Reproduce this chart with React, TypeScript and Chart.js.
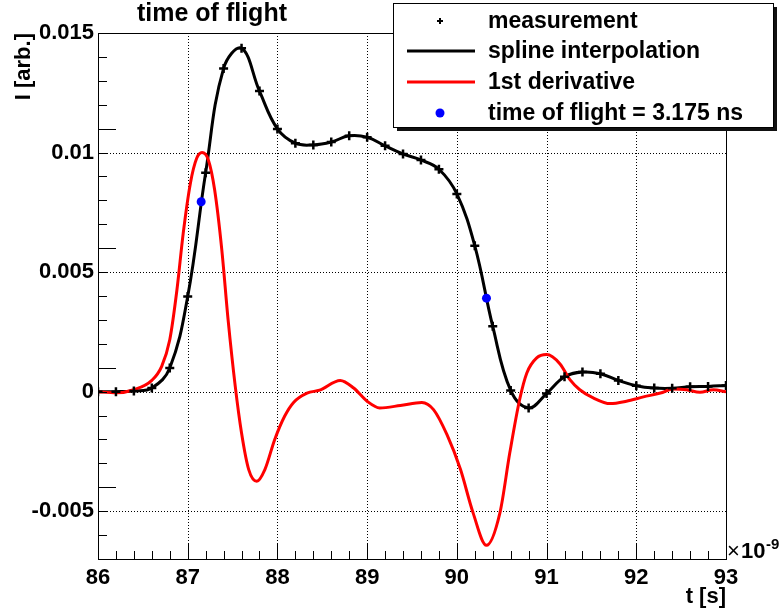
import React, { useEffect, useRef } from 'react';
import { Chart, registerables } from 'chart.js';

Chart.register(...registerables);

// ---------- data ----------
const measT = [86.0, 86.2, 86.4, 86.6, 86.8, 87.0, 87.2, 87.4, 87.6, 87.8, 88.0, 88.2, 88.4, 88.6, 88.8, 89.0, 89.2, 89.4, 89.6, 89.8, 90.0, 90.2, 90.4, 90.6, 90.8, 91.0, 91.2, 91.4, 91.6, 91.8, 92.0, 92.2, 92.4, 92.6, 92.8, 93.0];
const measI = [0.0, 0.0, 0.00003, 0.00015, 0.00099, 0.00398, 0.00916, 0.01352, 0.01436, 0.01257, 0.01099, 0.01039, 0.01032, 0.01044, 0.0107, 0.01064, 0.01028, 0.00994, 0.00969, 0.0093, 0.00827, 0.0061, 0.00273, 0.00005, -0.00068, -0.00008, 0.00062, 0.00082, 0.00075, 0.00047, 0.00025, 0.00015, 0.00014, 0.0002, 0.00022, 0.00026];

const derivT = [86.0, 86.2, 86.4, 86.6, 86.71, 86.8, 86.88, 86.95, 87.03, 87.1, 87.16, 87.23, 87.3, 87.38, 87.45, 87.53, 87.6, 87.68, 87.77, 87.86, 87.97, 88.08, 88.18, 88.33, 88.47, 88.7, 88.85, 89.0, 89.14, 89.37, 89.61, 89.74, 89.89, 90.04, 90.18, 90.33, 90.48, 90.59, 90.7, 90.78, 90.89, 91.0, 91.15, 91.26, 91.37, 91.52, 91.71, 91.89, 92.08, 92.27, 92.41, 92.56, 92.71, 92.86, 93.0];
const derivI = [0.0, -0.00005, 0.00008, 0.00047, 0.00106, 0.00217, 0.00426, 0.00663, 0.00872, 0.00976, 0.01, 0.00969, 0.00844, 0.00593, 0.00301, 0.00022, -0.00173, -0.00326, -0.00375, -0.00326, -0.002, -0.00103, -0.00045, -0.00006, 0.00006, 0.00047, 0.00015, -0.0004, -0.00068, -0.00058, -0.00045, -0.00075, -0.0018, -0.00325, -0.00506, -0.00643, -0.00507, -0.00256, -0.00033, 0.00078, 0.00141, 0.00155, 0.00116, 0.0005, 0.00008, -0.00026, -0.0005, -0.0004, -0.00022, -0.00006, 0.00011, 0.00008, -0.00003, 0.00008, -0.00001];

const tofT = [87.15, 90.33];
const tofI = [0.00794, 0.00391];

const xMin = 86;
const xMax = 93;
const yMin = -0.007;
const yMax = 0.015;
const xTickValues = [86, 87, 88, 89, 90, 91, 92, 93];
const xTickLabels = ['86', '87', '88', '89', '90', '91', '92', '93'];
const yTickValues = [-0.005, 0, 0.005, 0.01, 0.015];
const yTickLabels = ['-0.005', '0', '0.005', '0.01', '0.015'];

const titleText = 'time of flight';
const xTitle = 't [s]';
const yTitle = 'I [arb.]';
const xExponentBase = '10';
const xExponent = '-9';
const legendLabels = ['measurement', 'spline interpolation', '1st derivative', 'time of flight = 3.175 ns'];

// ---------- style ----------
const FONT = "'Liberation Sans', Arial, Helvetica, sans-serif";
const W = 781;
const H = 615;

const decorPlugin = {
  id: 'rootDecor',
  beforeDatasetsDraw(chart: any) {
    const { ctx, chartArea: a, scales } = chart;
    const x = scales.x;
    const y = scales.y;
    ctx.save();
    ctx.strokeStyle = '#000';
    ctx.lineWidth = 1;
    ctx.setLineDash([1, 2]);
    xTickValues.forEach((v) => {
      if (v <= xMin || v >= xMax) return;
      const px = Math.round(x.getPixelForValue(v)) + 0.5;
      ctx.beginPath();
      ctx.moveTo(px, a.top);
      ctx.lineTo(px, a.bottom);
      ctx.stroke();
    });
    yTickValues.forEach((v) => {
      if (v <= yMin || v >= yMax) return;
      const py = Math.round(y.getPixelForValue(v)) + 0.5;
      ctx.beginPath();
      ctx.moveTo(a.left, py);
      ctx.lineTo(a.right, py);
      ctx.stroke();
    });
    ctx.restore();
  },
  afterDatasetsDraw(chart: any) {
    const { ctx, chartArea: a, scales } = chart;
    const x = scales.x;
    const y = scales.y;
    ctx.save();
    ctx.setLineDash([]);
    ctx.strokeStyle = '#000';
    ctx.lineWidth = 1;
    // frame
    ctx.strokeRect(Math.round(a.left) + 0.5, Math.round(a.top) + 0.5, Math.round(a.right - a.left), Math.round(a.bottom - a.top));
    // x ticks (inside)
    for (let i = 0; i <= 35; i++) {
      const v = xMin + i * 0.2;
      const px = Math.round(x.getPixelForValue(v)) + 0.5;
      const major = i % 5 === 0;
      const len = major ? 16 : 8;
      ctx.beginPath();
      ctx.moveTo(px, a.bottom);
      ctx.lineTo(px, a.bottom - len);
      ctx.stroke();
    }
    // y ticks (inside)
    for (let i = 0; i <= 22; i++) {
      const v = yMin + i * 0.001;
      const py = Math.round(y.getPixelForValue(v)) + 0.5;
      const major = (i + 2) % 5 === 0;
      const len = major ? 18 : 9;
      ctx.beginPath();
      ctx.moveTo(a.left, py);
      ctx.lineTo(a.left + len, py);
      ctx.stroke();
    }

    ctx.fillStyle = '#000';
    // title
    ctx.font = `bold 25px ${FONT}`;
    ctx.textAlign = 'left';
    ctx.textBaseline = 'alphabetic';
    ctx.fillText(titleText, 137, 21);

    // x title
    ctx.font = `bold 22px ${FONT}`;
    ctx.textAlign = 'right';
    ctx.fillText(xTitle, a.right, 603);

    // exponent
    ctx.textAlign = 'left';
    ctx.font = `22px ${FONT}`;
    ctx.fillText('\u00d7', a.right + 1, 558);
    ctx.font = `bold 22px ${FONT}`;
    ctx.fillText(xExponentBase, a.right + 15, 558);
    ctx.font = `bold 15px ${FONT}`;
    ctx.fillText(xExponent, a.right + 40, 549);

    // y title rotated
    ctx.save();
    ctx.translate(30, a.top);
    ctx.rotate(-Math.PI / 2);
    ctx.font = `bold 22px ${FONT}`;
    ctx.textAlign = 'right';
    ctx.textBaseline = 'alphabetic';
    ctx.fillText(yTitle, 0, 0);
    ctx.restore();

    // legend
    const lx = 393;
    const ly = 3;
    const lw = 380;
    const lh = 124;
    ctx.fillStyle = '#111';
    ctx.fillRect(lx + 4, ly + 4, lw, lh);
    ctx.fillStyle = '#fff';
    ctx.fillRect(lx, ly, lw, lh);
    ctx.strokeStyle = '#000';
    ctx.lineWidth = 1;
    ctx.strokeRect(lx + 0.5, ly + 0.5, lw, lh);

    const rows = [21, 51, 82, 113];
    // marker +
    ctx.lineWidth = 2;
    ctx.beginPath();
    ctx.moveTo(437, rows[0]);
    ctx.lineTo(443, rows[0]);
    ctx.moveTo(440, rows[0] - 3);
    ctx.lineTo(440, rows[0] + 3);
    ctx.stroke();
    // black line
    ctx.lineWidth = 3;
    ctx.beginPath();
    ctx.moveTo(407, rows[1]);
    ctx.lineTo(475, rows[1]);
    ctx.stroke();
    // red line
    ctx.strokeStyle = '#ff0000';
    ctx.beginPath();
    ctx.moveTo(407, rows[2]);
    ctx.lineTo(475, rows[2]);
    ctx.stroke();
    // blue dot
    ctx.fillStyle = '#0000ff';
    ctx.beginPath();
    ctx.arc(440, rows[3], 4.5, 0, Math.PI * 2);
    ctx.fill();

    ctx.fillStyle = '#000';
    ctx.font = `bold 23px ${FONT}`;
    ctx.textAlign = 'left';
    ctx.textBaseline = 'middle';
    legendLabels.forEach((t, i) => {
      ctx.fillText(t, 488, rows[i] + 1);
    });
    ctx.restore();
  },
};

export default function App() {
  const ref = useRef<HTMLCanvasElement | null>(null);
  useEffect(() => {
    if (!ref.current) return;
    const chart = new Chart(ref.current, {
      type: 'scatter',
      data: {
        datasets: [
          {
            label: 'tof',
            data: tofT.map((t, i) => ({ x: t, y: tofI[i] })),
            pointStyle: 'circle',
            pointRadius: 4.5,
            backgroundColor: '#0000ff',
            borderColor: '#0000ff',
            borderWidth: 0,
            showLine: false,
            order: 0,
          },
          {
            label: 'measurement',
            data: measT.map((t, i) => ({ x: t, y: measI[i] })),
            pointStyle: 'cross',
            pointRadius: 4.5,
            borderColor: '#000',
            backgroundColor: '#000',
            borderWidth: 2.5,
            showLine: false,
            order: 1,
          },
          {
            label: 'derivative',
            data: derivT.map((t, i) => ({ x: t, y: derivI[i] })),
            showLine: true,
            pointRadius: 0,
            borderColor: '#ff0000',
            borderWidth: 3,
            cubicInterpolationMode: 'monotone',
            order: 2,
          },
          {
            label: 'spline',
            data: measT.map((t, i) => ({ x: t, y: measI[i] })),
            showLine: true,
            pointRadius: 0,
            borderColor: '#000',
            borderWidth: 3,
            tension: 0.4,
            order: 3,
          },
        ],
      },
      options: {
        animation: false,
        responsive: false,
        devicePixelRatio: 1,
        events: [],
        layout: { padding: { left: 0, right: 55, top: 33, bottom: 0 } },
        plugins: { legend: { display: false }, tooltip: { enabled: false }, title: { display: false } },
        scales: {
          x: {
            type: 'linear',
            min: xMin,
            max: xMax,
            grid: { display: false, drawTicks: false },
            border: { display: false },
            afterBuildTicks: (s: any) => {
              s.ticks = xTickValues.map((v) => ({ value: v }));
            },
            afterFit: (s: any) => {
              s.height = 56;
            },
            ticks: {
              autoSkip: false,
              maxRotation: 0,
              padding: 6,
              color: '#000',
              font: { family: FONT, size: 22, weight: 'bold' },
              callback: (v: any) => {
                const i = xTickValues.indexOf(Number(v));
                return i >= 0 ? xTickLabels[i] : '';
              },
            },
          },
          y: {
            type: 'linear',
            min: yMin,
            max: yMax,
            grid: { display: false, drawTicks: false },
            border: { display: false },
            afterBuildTicks: (s: any) => {
              s.ticks = yTickValues.map((v) => ({ value: v }));
            },
            afterFit: (s: any) => {
              s.width = 98;
            },
            ticks: {
              autoSkip: false,
              padding: 4,
              color: '#000',
              font: { family: FONT, size: 22, weight: 'bold' },
              callback: (v: any) => {
                const i = yTickValues.findIndex((t) => Math.abs(t - Number(v)) < 1e-9);
                return i >= 0 ? yTickLabels[i] : '';
              },
            },
          },
        },
      },
      plugins: [decorPlugin],
    });
    return () => chart.destroy();
  }, []);
  return (
    <div style={{ position: 'absolute', left: 0, top: 0, width: W, height: H, background: '#fff' }}>
      <canvas ref={ref} width={W} height={H} style={{ display: 'block' }} />
    </div>
  );
}
